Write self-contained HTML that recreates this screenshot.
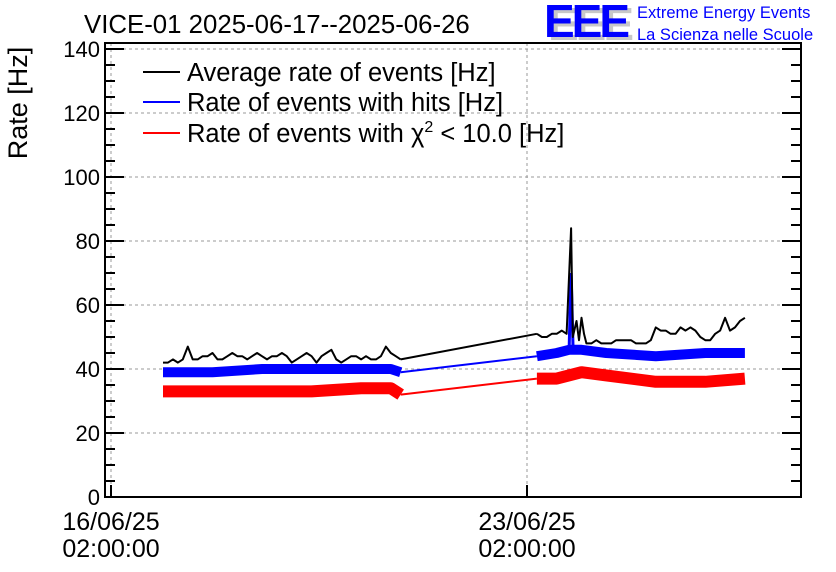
<!DOCTYPE html>
<html><head><meta charset="utf-8"><style>
html,body{margin:0;padding:0;background:#fff;}
svg{display:block;font-family:"Liberation Sans",sans-serif;}
</style></head><body>
<svg id="chart" width="836" height="572" viewBox="0 0 836 572">
<rect x="0" y="0" width="836" height="572" fill="#fff"/>
<text x="84" y="33" font-size="25.8" fill="#000">VICE-01 2025-06-17--2025-06-26</text>
<g>
<text x="548" y="40" font-size="46" font-weight="bold" fill="#c8c8c8" letter-spacing="-3">EEE</text>
<text x="544" y="37" font-size="46" font-weight="bold" fill="#0000ff" letter-spacing="-3">EEE</text>
<text x="637" y="18" font-size="16.5" fill="#0000ff">Extreme Energy Events</text>
<text x="637" y="40" font-size="16.5" fill="#0000ff">La Scienza nelle Scuole</text>
</g>
<g id="grid"></g>
<g id="series"></g>
<rect x="105" y="43" width="696" height="454" fill="none" stroke="#000" stroke-width="2"/>
<g id="axes"></g>
<text transform="translate(27,103) rotate(-90)" text-anchor="middle" font-size="27">Rate [Hz]</text>
<g>
<g><line x1="143" y1="72" x2="180" y2="72" stroke="#000" stroke-width="2"/><text x="187" y="81" font-size="25.5">Average rate of events [Hz]</text></g>
<g><line x1="143" y1="102" x2="180" y2="102" stroke="#0000ff" stroke-width="2"/><text x="187" y="111" font-size="25.5">Rate of events with hits [Hz]</text></g>
<g><line x1="143" y1="133" x2="180" y2="133" stroke="#ff0000" stroke-width="2"/><text x="187" y="142" font-size="25.5">Rate of events with χ<tspan dy="-10" font-size="16">2</tspan><tspan dy="10"> &lt; 10.0 [Hz]</tspan></text></g>
</g>
</svg>
<script>
// hours since 16/06/25 02:00
const blackT1 = [21,23,25,27,29,31,33,35,37,39,41,43,45,47,49,51,53,55,57,59,61,63,65,67,69,71,73,75,77,79,81,83,85,87,89,91,93,95,97,99,101,103,105,107,109,111,113,115,117];
const blackV1 = [42,42,43,42,43,47,43,43,44,44,45,43,43,44,45,44,44,43,44,45,44,43,44,44,45,44,42,43,44,45,44,42,44,45,46,43,42,43,44,44,43,44,43,43,44,47,45,44,43];
const blackT2 = [172,174,176,178,180,182,184,185.8,186.5,188,189,190,191,192,194,196,198,200,202,204,206,208,210,212,214,216,218,220,222,224,226,228,230,232,234,236,238,240,242,244,246,248,250,252,254,256];
const blackV2 = [51,50,50,51,51,52,51,84,50,55,49,56,51,48,48,49,48,48,48,49,49,49,49,48,48,48,49,53,52,52,51,51,53,52,53,52,50,49,49,51,52,56,52,53,55,56];
const blueT1 = [21,41,61,81,101,113,117];
const blueV1 = [39,39,40,40,40,40,39];
const blueT2 = [172,180,185,190,200,220,240,256];
const blueV2 = [44,45,46,46,45,44,45,45];
const blueSpikeT = [185,185.8,186.6];
const blueSpikeV = [46,70,46];
const redT1 = [21,41,61,81,101,113,117];
const redV1 = [33,33,33,33,34,34,32];
const redT2 = [172,180,190,200,220,240,256];
const redV2 = [37,37,39,38,36,36,37];
const yTicks = [0,20,40,60,80,100,120,140];
const xTickHours = [0,168];
const xTickLabels = [["16/06/25","02:00:00"],["23/06/25","02:00:00"]];

const NS="http://www.w3.org/2000/svg";
const X = h => 111 + h*(416/168);
const Y = v => 497 - v*3.2;
function mk(tag, attrs, parent){const e=document.createElementNS(NS,tag);for(const k in attrs)e.setAttribute(k,attrs[k]);parent.appendChild(e);return e;}
const grid=document.getElementById('grid'), axes=document.getElementById('axes'), series=document.getElementById('series');

yTicks.forEach(v=>{
  if(v>0){const g=mk('line',{x1:105,x2:801,y1:Y(v),y2:Y(v),stroke:'#999','stroke-dasharray':'3,3','stroke-width':1},grid);
  
  }
  const t=mk('text',{x:100,y:Y(v)+8,'text-anchor':'end','font-size':22},axes);t.textContent=v;
  
  
  mk('line',{x1:105,x2:124,y1:Y(v),y2:Y(v),stroke:'#000','stroke-width':2},axes);
  mk('line',{x1:782,x2:801,y1:Y(v),y2:Y(v),stroke:'#000','stroke-width':2},axes);
});
for(let v=5;v<140;v+=5){ if(v%20===0) continue;
  mk('line',{x1:105,x2:115,y1:Y(v),y2:Y(v),stroke:'#000','stroke-width':2},axes);
  mk('line',{x1:791,x2:801,y1:Y(v),y2:Y(v),stroke:'#000','stroke-width':2},axes);
}
xTickHours.forEach((h,i)=>{
  const g=mk('line',{x1:X(h),x2:X(h),y1:43,y2:497,stroke:'#999','stroke-dasharray':'3,3','stroke-width':1},grid);
  
  
  mk('line',{x1:X(h),x2:X(h),y1:485,y2:497,stroke:'#000','stroke-width':2},axes);
  const t1=mk('text',{x:X(h),y:530,'text-anchor':'middle','font-size':25},axes);t1.textContent=xTickLabels[i][0];
  
  
  const t2=mk('text',{x:X(h),y:557,'text-anchor':'middle','font-size':25},axes);t2.textContent=xTickLabels[i][1];
  
  
});
function pts(T,V){return T.map((t,i)=>X(t).toFixed(1)+','+Y(V[i]).toFixed(1)).join(' ');}
function draw(T1,V1,T2,V2,color,w,name){
  const a=mk('polyline',{points:pts(T1,V1),fill:'none',stroke:color,'stroke-width':w,'stroke-linejoin':'round'},series);
  
  
  const c=mk('polyline',{points:pts([T1[T1.length-1],T2[0]],[V1[V1.length-1],V2[0]]),fill:'none',stroke:color,'stroke-width':2},series);
  
  
  const b=mk('polyline',{points:pts(T2,V2),fill:'none',stroke:color,'stroke-width':w,'stroke-linejoin':'round'},series);
  
  
}
draw(redT1,redV1,redT2,redV2,'#ff0000',12,'chi2-rate');
draw(blueT1,blueV1,blueT2,blueV2,'#0000ff',10,'hits-rate');
const sp=mk('polyline',{points:pts(blueSpikeT,blueSpikeV),fill:'none',stroke:'#0000ff','stroke-width':3},series);


draw(blackT1,blackV1,blackT2,blackV2,'#000',2,'average-rate');
</script>
</body></html>
